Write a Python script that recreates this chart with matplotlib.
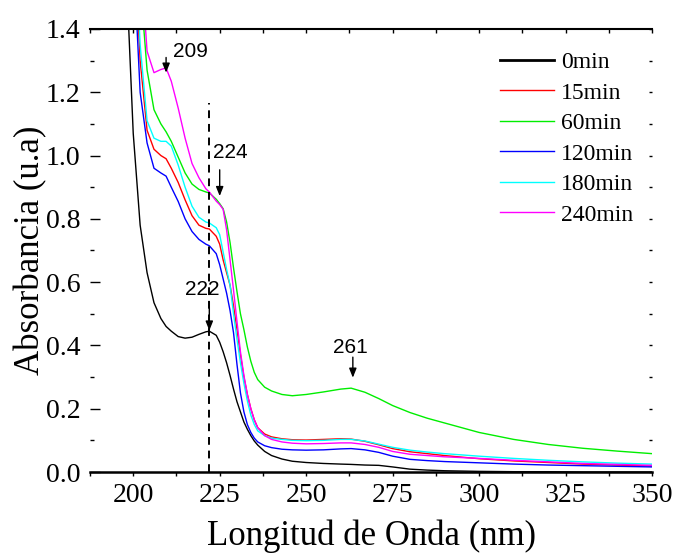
import matplotlib
matplotlib.use("Agg")
import matplotlib.pyplot as plt
from matplotlib.ticker import MultipleLocator, FormatStrFormatter, NullFormatter

wavelength = [198, 200, 202, 204, 206, 208, 209.5, 211, 213, 215, 217, 219, 221, 222,
              224, 225, 226, 227, 228, 229, 230, 231, 232, 233, 234, 235, 236, 238, 240,
              243, 246, 250, 255, 260, 263, 267, 271, 275, 280, 285, 290, 300, 310, 320,
              330, 340, 350]

abs_0min = [1.58, 1.07, 0.78, 0.63, 0.535, 0.485, 0.46, 0.445, 0.428, 0.423, 0.426, 0.435, 0.443, 0.445,
            0.432, 0.41, 0.38, 0.345, 0.305, 0.262, 0.222, 0.19, 0.158, 0.135, 0.115, 0.098, 0.085, 0.065, 0.052,
            0.041, 0.034, 0.030, 0.027, 0.025, 0.024, 0.022, 0.021, 0.016, 0.009, 0.006, 0.004, 0.002, 0.001, 0.001,
            0.0, 0.0, 0.0]
abs_15min = [2.6, 1.75, 1.3, 1.08, 1.02, 1.0, 0.99, 0.96, 0.915, 0.86, 0.81, 0.78, 0.77, 0.768,
             0.745, 0.72, 0.67, 0.63, 0.59, 0.525, 0.45, 0.37, 0.30, 0.245, 0.20, 0.165, 0.14, 0.12, 0.111,
             0.105, 0.102, 0.101, 0.103, 0.105, 0.104, 0.097, 0.086, 0.074, 0.064, 0.058, 0.052, 0.042, 0.035, 0.030,
             0.025, 0.022, 0.019]
abs_60min = [3.2, 2.1, 1.55, 1.27, 1.145, 1.1, 1.075, 1.045, 0.995, 0.945, 0.91, 0.893, 0.885, 0.882,
             0.862, 0.848, 0.832, 0.79, 0.725, 0.645, 0.57, 0.50, 0.45, 0.395, 0.35, 0.315, 0.292, 0.268, 0.256,
             0.245, 0.241, 0.245, 0.253, 0.262, 0.265, 0.252, 0.232, 0.21, 0.188, 0.17, 0.155, 0.125, 0.103, 0.087,
             0.075, 0.066, 0.058]
abs_120min = [2.2, 1.65, 1.2, 1.04, 0.96, 0.945, 0.935, 0.9, 0.855, 0.8, 0.76, 0.735, 0.72, 0.715,
              0.69, 0.655, 0.61, 0.565, 0.51, 0.44, 0.34, 0.25, 0.19, 0.15, 0.125, 0.107, 0.095, 0.083, 0.077,
              0.072, 0.07, 0.069, 0.07, 0.073, 0.074, 0.07, 0.062, 0.05, 0.04, 0.036, 0.033, 0.029, 0.025, 0.022,
              0.02, 0.018, 0.016]
abs_180min = [2.4, 1.8, 1.35, 1.11, 1.055, 1.045, 1.045, 1.03, 0.97, 0.9, 0.84, 0.805, 0.79, 0.787,
              0.772, 0.75, 0.695, 0.64, 0.59, 0.50, 0.42, 0.345, 0.28, 0.225, 0.18, 0.15, 0.13, 0.115, 0.107,
              0.103, 0.1, 0.099, 0.1, 0.103, 0.103, 0.098, 0.088, 0.078, 0.069, 0.063, 0.058, 0.05, 0.043, 0.037,
              0.032, 0.028, 0.025]
abs_240min = [3.0, 2.2, 1.65, 1.33, 1.262, 1.272, 1.277, 1.235, 1.15, 1.055, 0.975, 0.93, 0.895, 0.885,
              0.856, 0.845, 0.83, 0.765, 0.67, 0.575, 0.475, 0.38, 0.305, 0.245, 0.2, 0.165, 0.14, 0.115, 0.103,
              0.095, 0.091, 0.089, 0.09, 0.092, 0.092, 0.087, 0.078, 0.065, 0.056, 0.052, 0.048, 0.043, 0.037, 0.032,
              0.027, 0.024, 0.021]

series_labels = ["0min", "15min", "60min", "120min", "180min", "240min"]
series_values = [abs_0min, abs_15min, abs_60min, abs_120min, abs_180min, abs_240min]
series_colors = ["black", "#ff0000", "#00ee00", "#0000ff", "#00ffff", "#ff00ff"]

peak_labels = ["209", "224", "222", "261"]
peak_x = [209.5, 225, 222, 263.5]
arrow_tail_y = [1.31, 0.955, 0.537, 0.363]
arrow_head_y = [1.262, 0.872, 0.447, 0.298]
label_x = [216.5, 228.0, 219.9, 262.9]
label_y = [1.313, 0.993, 0.559, 0.377]

dashed_x = 222
dashed_top = 1.165

serif = "Liberation Serif"
sans = "Liberation Sans"

fig = plt.figure(figsize=(6.74, 5.57), dpi=100)
ax = fig.add_axes([90 / 674, 1 - 472 / 557, 562 / 674, 443 / 557])

for vals, lab, col in zip(series_values, series_labels, series_colors):
    ax.plot(wavelength, vals, color=col, lw=1.0, label=lab)

ax.plot([dashed_x, dashed_x], [0, dashed_top], color="black", lw=1.4, ls=(0, (4, 3)))

for t, x, ty, hy, lx, ly in zip(peak_labels, peak_x, arrow_tail_y, arrow_head_y, label_x, label_y):
    ax.annotate("", xy=(x, hy), xytext=(x, ty),
                arrowprops=dict(arrowstyle="-|>,head_length=0.55,head_width=0.22",
                                color="black", lw=1.0, shrinkA=0, shrinkB=0))
    ax.text(lx, ly, t, ha="center", va="baseline", fontsize=15, family=sans)

ax.set_xlim(187.5, 350)
ax.set_ylim(0, 1.4)

ax.xaxis.set_major_locator(MultipleLocator(25))
ax.xaxis.set_minor_locator(MultipleLocator(12.5))
ax.yaxis.set_major_locator(MultipleLocator(0.2))
ax.yaxis.set_minor_locator(MultipleLocator(0.1))
ax.yaxis.set_major_formatter(FormatStrFormatter("%.1f"))

for s in ["left", "right"]:
    ax.spines[s].set_visible(False)
ax.spines["top"].set_linewidth(1.5)
ax.spines["bottom"].set_linewidth(1.8)

ax.tick_params(axis="x", which="both", direction="out", length=3, width=1, pad=5,
               top=False)
ax.tick_params(axis="y", which="major", direction="in", length=7, width=1, pad=7, right=False)
ax.tick_params(axis="y", which="minor", direction="in", length=3, width=1, right=False)

# small inward ticks on the top and right edges
top_ax = ax.secondary_xaxis("top")
top_ax.xaxis.set_major_locator(MultipleLocator(12.5))
top_ax.xaxis.set_major_formatter(NullFormatter())
top_ax.tick_params(direction="in", length=3, width=1)
top_ax.spines["top"].set_visible(False)
right_ax = ax.secondary_yaxis("right")
right_ax.yaxis.set_major_locator(MultipleLocator(0.1))
right_ax.yaxis.set_major_formatter(NullFormatter())
right_ax.tick_params(direction="in", length=2, width=1)
right_ax.spines["right"].set_visible(False)

for lab in ax.get_xticklabels() + ax.get_yticklabels():
    lab.set_family(serif)
    lab.set_fontsize(20)

ax.set_xlabel("Longitud de Onda (nm)", family=serif, fontsize=25)
ax.set_ylabel("Absorbancia (u.a)", family=serif, fontsize=25)
ax.xaxis.set_label_coords(0.5, -0.108)
ax.yaxis.set_label_coords(-0.076, 0.5)

leg = ax.legend(loc="upper left", bbox_to_anchor=(0.729, 0.949), frameon=False,
                prop={"family": serif, "size": 17}, handlelength=2.3, handletextpad=0.3,
                labelspacing=0.38, borderpad=0, borderaxespad=0)
leg.get_lines()[0].set_linewidth(2.0)

fig.savefig("out.png", dpi=100)
